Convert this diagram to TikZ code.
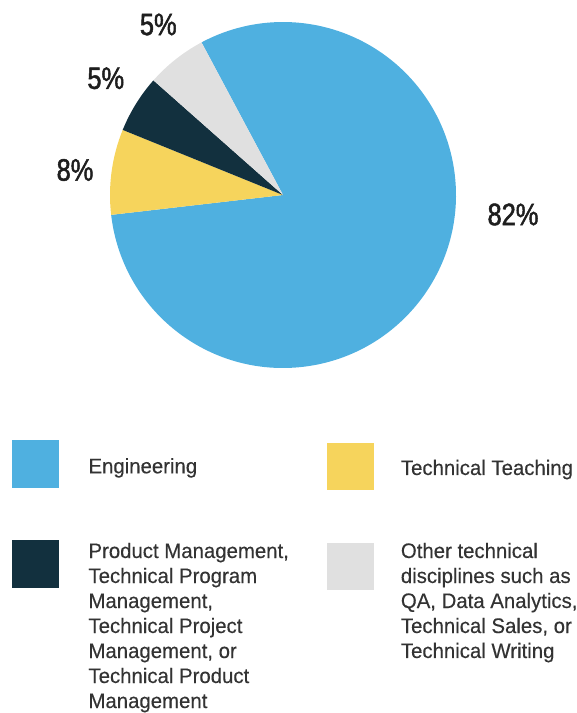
\documentclass[tikz,border=0pt]{standalone}
\usepackage{fontspec}
\usepackage{tikz}

\newfontfamily\legendfont[FakeStretch=0.97,FakeBold=0.3]{Liberation Sans}
\newfontfamily\pctfont[FakeStretch=0.82,FakeBold=1.6]{Liberation Sans}

\definecolor{skyblue}{HTML}{4FB0E0}
\definecolor{sun}{HTML}{F6D45C}
\definecolor{navy}{HTML}{12303E}
\definecolor{silver}{HTML}{E0E0E0}
\definecolor{labelgray}{HTML}{1E1E1E}
\definecolor{textgray}{HTML}{333333}

\begin{document}
\begin{tikzpicture}[x=1pt,y=1pt,
		pct/.style={font=\pctfont\fontsize{31}{31}\selectfont,text=labelgray,inner sep=0pt},
		key/.style={minimum size=47.5pt,inner sep=0pt,anchor=north west},
		legend/.style={anchor=base west,align=left,inner sep=0pt,text=textgray,
			font=\legendfont\fontsize{21}{25}\selectfont}]
		\useasboundingbox (0,0) rectangle (577,713);

		% Pie slices
		\coordinate (c) at (283,518);
		\foreach \from/\to/\col in {186.6/478.1/skyblue, 157.9/186.6/sun,
				138.5/157.9/navy, 118.1/138.5/silver} {
			\fill[\col] (c) -- ++(\from:173) arc[start angle=\from,end angle=\to,radius=173] -- cycle;
		}

		% Percentages
		\node[pct] (pEng) at (513,498.5) {82\%};
		\node[pct] (pTeach) at (75,543) {8\%};
		\node[pct] (pMgmt) at (105.8,634.7) {5\%};
		\node[pct] (pOther) at (158.3,688.5) {5\%};

		% Legend keys
		\node[key,fill=skyblue] (kEng) at (11.7,273) {};
		\node[key,fill=sun] (kTeach) at (326.5,270.3) {};
		\node[key,fill=navy] (kMgmt) at (11.7,173) {};
		\node[key,fill=silver] (kOther) at (326.7,170.3) {};

		% Legend texts (multi-line ones sit on their last baseline)
		\node[legend] (tEng) at (88.3,239.7) {Engineering};
		\node[legend] (tTeach) at (400.7,238) {Technical Teaching};
		\node[legend] (tMgmt) at (88.3,5) {Product Management,\\
			Technical Program\\ Management,\\ Technical Project\\
			Management, or\\ Technical Product\\ Management};
		\node[legend] (tOther) at (400.7,55) {Other technical\\
			disciplines such as\\ QA, Data Analytics,\\ Technical Sales, or\\
			Technical Writing};
	\end{tikzpicture}
\end{document}
